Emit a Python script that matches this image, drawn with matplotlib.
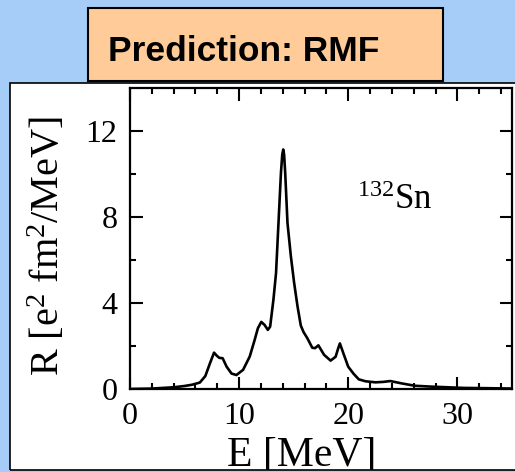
import numpy as np
import matplotlib
matplotlib.use("Agg")
import matplotlib.pyplot as plt
from matplotlib.patches import Rectangle

plt.rcParams["font.family"] = ["Liberation Serif", "DejaVu Serif"]
plt.rcParams["mathtext.fontset"] = "custom"
plt.rcParams["mathtext.rm"] = "Liberation Serif"
plt.rcParams["mathtext.it"] = "Liberation Serif:italic"

# strength function
energy = [0, 2, 4.0, 5.0, 5.7, 6.4, 6.9, 7.33, 7.7, 7.95, 8.18, 8.49, 8.85,
          9.3, 9.75, 10.36, 10.97, 11.42, 11.72, 12.03, 12.33, 12.63, 12.84,
          13.14, 13.38, 13.53, 13.68, 13.83, 13.95, 14.04, 14.12, 14.22,
          14.43, 14.74, 15.04, 15.35, 15.65, 15.9, 16.25, 16.7, 16.95, 17.26,
          17.78, 18.38, 18.84, 19.05, 19.23, 19.6, 19.99, 20.5, 20.96, 21.57,
          22.48, 23.2, 23.85, 24.9, 26.1, 27.6, 29.1, 30.6, 32.4, 35.0]
strength = [0.0, 0.02, 0.08, 0.14, 0.2, 0.3, 0.6, 1.2, 1.69, 1.55, 1.45,
            1.43, 1.04, 0.72, 0.65, 0.89, 1.51, 2.28, 2.83, 3.12, 2.98, 2.75,
            2.9, 4.15, 5.39, 6.95, 8.5, 10.05, 10.9, 11.14, 10.9, 10.05, 7.72,
            6.17, 4.93, 3.84, 2.95, 2.65, 2.36, 1.92, 1.9, 2.03, 1.59, 1.32,
            1.5, 1.85, 2.12, 1.59, 1.04, 0.7, 0.45, 0.36, 0.31, 0.33, 0.37,
            0.26, 0.15, 0.11, 0.08, 0.05, 0.04, 0.02]

x_major = [0, 10, 20, 30]
y_major = [0, 4, 8, 12]

W, H = 515, 472
fig = plt.figure(figsize=(W / 100, H / 100), dpi=100)
fig.patch.set_facecolor("#a6cdf7")

# white panel and orange title box
fig.add_artist(Rectangle((10 / W, 1 - 470 / H), 1.0, (470 - 83) / H,
                         transform=fig.transFigure, facecolor="white",
                         edgecolor="none", zorder=-2))
fig.add_artist(Rectangle((88 / W, 1 - 81 / H), (443 - 88) / W, (81 - 8) / H,
                         transform=fig.transFigure, facecolor="#ffcc99",
                         edgecolor="black", linewidth=1.5, zorder=-1))
fig.text(108 / W, 1 - 61 / H, "Prediction: RMF", fontsize=25.5,
         fontweight="bold", family=["Liberation Sans", "DejaVu Sans"],
         va="baseline", ha="left")

ax = fig.add_axes([130 / W, 1 - 389 / H, (512 - 130) / W, (389 - 88) / H])
ax.plot(energy, strength, color="black", linewidth=1.9,
        solid_joinstyle="round", solid_capstyle="round")
ax.set_xlim(0, 35)
ax.set_ylim(0, 14)
ax.set_xticks(x_major)
ax.set_yticks(y_major)
ax.set_xticks(np.arange(0, 35, 2), minor=True)
ax.set_yticks([2, 6, 10], minor=True)
ax.tick_params(which="both", direction="in", top=True, right=True,
               width=1.5, labelsize=23, pad=9)
ax.tick_params(which="major", length=9)
ax.tick_params(which="minor", length=4.5)
for s in ax.spines.values():
    s.set_linewidth(1.6)

ax.text(20.8, 8.35, r"$^{132}$Sn", fontsize=25)

fig.text(48 / W, 1 - 246 / H, r"R [e$^2$ fm$^2$/MeV]", fontsize=29,
         rotation=90, ha="center", va="center")
fig.text(227 / W, 1 - 466 / H, "E [MeV]", fontsize=30, ha="left",
         va="baseline")

# panel border and strip under it
fig.add_artist(Rectangle((0, 0), 1, 1 - 470 / H, transform=fig.transFigure,
                         facecolor="#a6cdf7", edgecolor="none", zorder=5))
fig.add_artist(Rectangle((10 / W, 1 - 470 / H), 1.0, (470 - 83) / H,
                         transform=fig.transFigure, facecolor="none",
                         edgecolor="black", linewidth=1.2, zorder=6))

fig.savefig("out.png", dpi=100, facecolor=fig.get_facecolor())
